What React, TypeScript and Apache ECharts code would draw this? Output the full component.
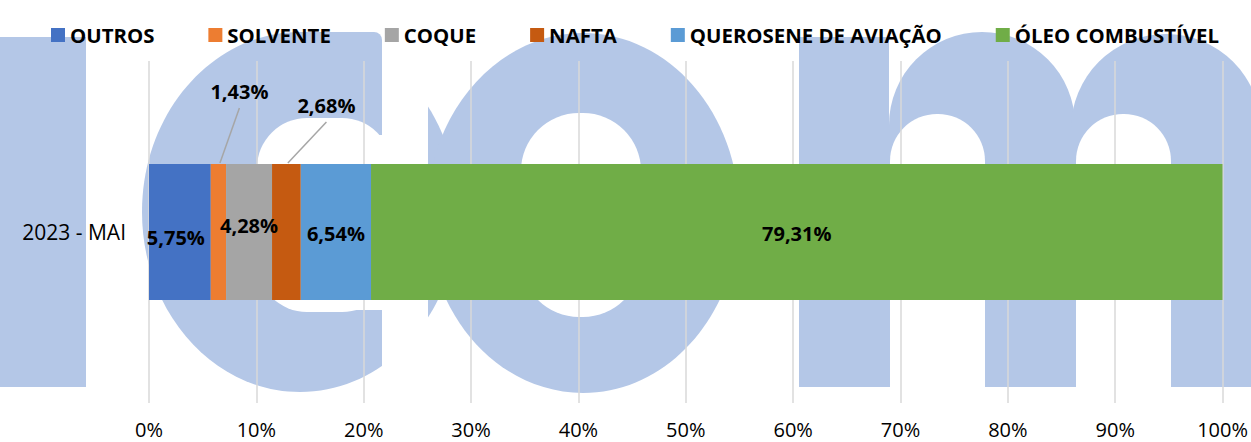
import { useEffect, useRef } from 'react';
import * as echarts from 'echarts';

// ---- data ----
const categories = ['2023 - MAI'];
const outros = [5.75];
const solvente = [1.43];
const coque = [4.28];
const nafta = [2.68];
const querosene = [6.54];
const oleo = [79.31];
const seriesNames = ['OUTROS', 'SOLVENTE', 'COQUE', 'NAFTA', 'QUEROSENE DE AVIAÇÃO', 'ÓLEO COMBUSTÍVEL'];
const seriesData = [outros, solvente, coque, nafta, querosene, oleo];
const axisMin = 0;
const axisMax = 100;
const axisStep = 10;

// ---- styles ----
const COLORS = ['#4472c4', '#ed7d31', '#a5a5a5', '#c55a11', '#5b9bd5', '#70ad47'];
const LABEL_SHIFT = [[-4, 5], [0, 0], [0, -7], [0, 0], [0, 1], [0, 1]];
// outside labels with leader lines: [dx from bar centre, dy above bar top, line end as fraction of bar width]
const OUTSIDE: Record<number, [number, number, number]> = { 1: [21, 73, 0.6], 3: [40, 59, 0.55] };
const BAR_WIDTH = 136;
const FONT = "'Open Sans', 'Noto Sans', sans-serif";
const WM = '#b4c7e7';
const WHITE = '#ffffff';

const fmt = (v: number) => v.toFixed(2).replace('.', ',') + '%';

function watermark() {
  const base = { z: -10, silent: true };
  const els: any[] = [
    // "i"
    { type: 'rect', shape: { x: 0, y: 37, width: 86, height: 350 }, style: { fill: WM } },
    // "c"
    { type: 'ellipse', shape: { cx: 300, cy: 212, rx: 158, ry: 180 }, style: { fill: WM } },
    { type: 'rect', shape: { x: 300, y: 32, width: 82, height: 103, r: [0, 8, 0, 0] }, style: { fill: WM } },
    { type: 'rect', shape: { x: 257, y: 118, width: 135, height: 194, r: 50 }, style: { fill: WHITE } },
    { type: 'rect', shape: { x: 320, y: 135, width: 72, height: 175 }, style: { fill: WHITE } },
    { type: 'rect', shape: { x: 382, y: 0, width: 46, height: 442 }, style: { fill: WHITE } },
    // "o"
    { type: 'ellipse', shape: { cx: 583, cy: 213, rx: 156, ry: 180 }, style: { fill: WM } },
    { type: 'rect', shape: { x: 521, y: 113, width: 120, height: 204, r: 58 }, style: { fill: WHITE } },
    // "m"
    { type: 'rect', shape: { x: 799, y: 37, width: 90, height: 350 }, style: { fill: WM } },
    { type: 'rect', shape: { x: 889, y: 32, width: 186, height: 355, r: [93, 93, 0, 0] }, style: { fill: WM } },
    { type: 'rect', shape: { x: 1071, y: 34, width: 190, height: 353, r: [95, 95, 0, 0] }, style: { fill: WM } },
    { type: 'rect', shape: { x: 890, y: 114, width: 95, height: 290, r: [47, 47, 0, 0] }, style: { fill: WHITE } },
    { type: 'rect', shape: { x: 1076, y: 114, width: 95, height: 290, r: [47, 47, 0, 0] }, style: { fill: WHITE } },
  ];
  return els.map((e) => ({ ...base, ...e }));
}

function layoutFor(i: number) {
  const o = OUTSIDE[i];
  if (!o) return { dx: LABEL_SHIFT[i][0], dy: LABEL_SHIFT[i][1] };
  return (params: any) => {
    const r = params.rect;
    return {
      x: r.x + r.width / 2 + o[0],
      y: r.y - o[1],
      align: 'center',
      verticalAlign: 'middle',
    };
  };
}

// leader-line segments: [start, end, categoryIndex, seriesIndex], built from the data arrays
function leaderData() {
  const rows: number[][] = [];
  categories.forEach((_, c) => {
    let acc = 0;
    seriesData.forEach((arr, s) => {
      const v = arr[c];
      if (OUTSIDE[s]) rows.push([acc, acc + v, c, s]);
      acc += v;
    });
  });
  return rows;
}

export default function App() {
  const ref = useRef<HTMLDivElement>(null);

  useEffect(() => {
    document.body.style.margin = '0';
    if (!ref.current) return;
    const chart = echarts.init(ref.current, undefined, { renderer: 'svg' });

    const series: any[] = seriesNames.map((name, i) => ({
      name,
      type: 'bar',
      stack: 'total',
      data: seriesData[i],
      barWidth: BAR_WIDTH,
      itemStyle: { color: COLORS[i] },
      emphasis: { disabled: true },
      label: {
        show: true,
        position: 'inside',
        formatter: (p: any) => fmt(p.value),
        fontFamily: FONT,
        fontWeight: 'bold',
        fontSize: 20,
        color: '#000',
      },
      labelLayout: layoutFor(i),
    }));

    series.push({
      type: 'custom',
      name: 'leaders',
      coordinateSystem: 'cartesian2d',
      silent: true,
      z: 3,
      encode: { x: [0, 1], y: 2 },
      data: leaderData(),
      renderItem: (_params: any, api: any) => {
        const s = api.value(3);
        const o = OUTSIDE[s];
        const p0 = api.coord([api.value(0), api.value(2)]);
        const p1 = api.coord([api.value(1), api.value(2)]);
        const top = p0[1] - BAR_WIDTH / 2;
        const lx = (p0[0] + p1[0]) / 2 + o[0];
        const ly = top - o[1];
        const ex = p0[0] + (p1[0] - p0[0]) * o[2];
        return {
          type: 'line',
          shape: { x1: lx, y1: ly + 17, x2: ex, y2: top - 1 },
          style: { stroke: '#a6a6a6', lineWidth: 1.5 },
        };
      },
    });

    chart.setOption({
      animation: false,
      backgroundColor: '#ffffff',
      graphic: { elements: watermark() },
      legend: {
        data: seriesNames,
        top: 20,
        left: 46,
        itemWidth: 14,
        itemHeight: 14,
        itemGap: 54,
        icon: 'rect',
        selectedMode: false,
        textStyle: { fontFamily: FONT, fontWeight: 'bold', fontSize: 20.4, color: '#000' },
      },
      grid: { left: 149, right: 27, top: 61, bottom: 39, containLabel: false },
      xAxis: {
        type: 'value',
        min: axisMin,
        max: axisMax,
        interval: axisStep,
        axisLine: { show: false },
        axisTick: { show: false },
        axisLabel: { formatter: '{value}%', fontFamily: FONT, fontSize: 20, color: '#000', margin: 16 },
        splitLine: { show: true, lineStyle: { color: '#d9d9d9', width: 1.5 } },
      },
      yAxis: {
        type: 'category',
        data: categories,
        axisLine: { show: false },
        axisTick: { show: false },
        axisLabel: { fontFamily: FONT, fontSize: 21, color: '#000', margin: 23 },
      },
      series,
    });

    return () => chart.dispose();
  }, []);

  return <div ref={ref} style={{ width: 1251, height: 442 }} />;
}
